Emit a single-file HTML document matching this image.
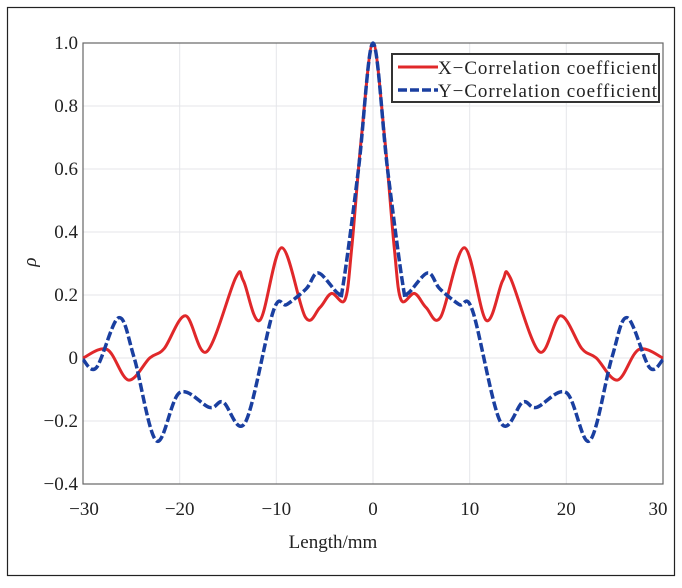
<!DOCTYPE html>
<html><head><meta charset="utf-8"><style>
body{margin:0;background:#fff;}
svg text{font-family:"Liberation Serif",serif;fill:#222;}
</style></head><body>
<svg id="s" width="682" height="583" viewBox="0 0 682 583" xmlns="http://www.w3.org/2000/svg">
<rect x="7.5" y="7.5" width="667" height="568" fill="#fff" stroke="#222" stroke-width="1.2"/>
<g stroke="#e4e6ea" stroke-width="1">
<line x1="179.7" y1="43" x2="179.7" y2="484"/><line x1="276.3" y1="43" x2="276.3" y2="484"/>
<line x1="373" y1="43" x2="373" y2="484"/><line x1="469.7" y1="43" x2="469.7" y2="484"/>
<line x1="566.3" y1="43" x2="566.3" y2="484"/>
<line x1="83" y1="106" x2="663" y2="106"/><line x1="83" y1="169" x2="663" y2="169"/>
<line x1="83" y1="232" x2="663" y2="232"/><line x1="83" y1="295" x2="663" y2="295"/>
<line x1="83" y1="358" x2="663" y2="358"/><line x1="83" y1="421" x2="663" y2="421"/>
</g>
<rect x="83" y="43" width="580" height="441" fill="none" stroke="#666" stroke-width="1.2"/>
<g font-size="19" text-anchor="end">
<text x="78" y="49">1.0</text><text x="78" y="112">0.8</text><text x="78" y="175">0.6</text>
<text x="78" y="238">0.4</text><text x="78" y="301">0.2</text><text x="78" y="364">0</text>
<text x="78" y="427">−0.2</text><text x="78" y="490">−0.4</text>
</g>
<g font-size="19" text-anchor="middle">
<text x="84" y="515">−30</text><text x="179.7" y="515">−20</text><text x="276.3" y="515">−10</text>
<text x="373" y="515">0</text><text x="469.7" y="515">10</text><text x="566.3" y="515">20</text><text x="658" y="515">30</text>
</g>
<text x="333" y="548" font-size="19" text-anchor="middle">Length/mm</text>
<text x="0" y="0" font-size="19" font-style="italic" transform="translate(36,262) rotate(-90)" text-anchor="middle">ρ</text>
<path id="red" fill="none" stroke="#e0282a" stroke-width="3"/>
<path id="blue" fill="none" stroke="#1a3fa0" stroke-width="3.5" stroke-dasharray="9,3"/>
<rect x="392" y="54" width="267" height="48" fill="#fff" stroke="#333" stroke-width="2"/>
<line x1="398" y1="67" x2="438" y2="67" stroke="#e0282a" stroke-width="3"/>
<line x1="398" y1="90" x2="438" y2="90" stroke="#1a3fa0" stroke-width="3.5" stroke-dasharray="9,3"/>
<text x="438" y="74" font-size="19" textLength="219" lengthAdjust="spacing">X−Correlation coefficient</text>
<text x="438" y="97" font-size="19" textLength="219" lengthAdjust="spacing">Y−Correlation coefficient</text>
</svg>
<script>
function X(v){return 373+v*9.667;}function Y(r){return 358-r*315;}
var red=[[-30,0],[-27.5,0.027],[-25.3,-0.07],[-23.1,0],[-21.6,0.03],[-19.4,0.134],[-17.2,0.02],[-14.2,0.255],[-13.4,0.245],[-11.7,0.12],[-9.45,0.35],[-7,0.13],[-5.5,0.16],[-4.3,0.205],[-2.9,0.185],[-2.2,0.35],[-1.2,0.7],[0,1]];
var blue=[[-30,-0.005],[-28.6,-0.03],[-26.3,0.128],[-24.7,0],[-22.4,-0.263],[-20,-0.11],[-16.9,-0.157],[-15.5,-0.14],[-13.2,-0.204],[-10.3,0.15],[-8.9,0.17],[-6.9,0.22],[-5.65,0.27],[-3.6,0.205],[-3.1,0.23],[-1.5,0.6],[0,1]];
function sym(a){var b=a.slice();for(var i=a.length-2;i>=0;i--)b.push([-a[i][0],a[i][1]]);return b;}
function path(a){var p=a.map(function(q){return [X(q[0]),Y(q[1])];});var d="M"+p[0][0]+","+p[0][1];
for(var i=0;i<p.length-1;i++){var p0=p[i-1]||p[i],p1=p[i],p2=p[i+1],p3=p[i+2]||p2;
var c1=[p1[0]+(p2[0]-p0[0])/6,p1[1]+(p2[1]-p0[1])/6],c2=[p2[0]-(p3[0]-p1[0])/6,p2[1]-(p3[1]-p1[1])/6];
d+=" C"+c1+" "+c2+" "+p2;}return d;}
document.getElementById("red").setAttribute("d",path(sym(red)));
document.getElementById("blue").setAttribute("d",path(sym(blue)));
</script>
</body></html>
